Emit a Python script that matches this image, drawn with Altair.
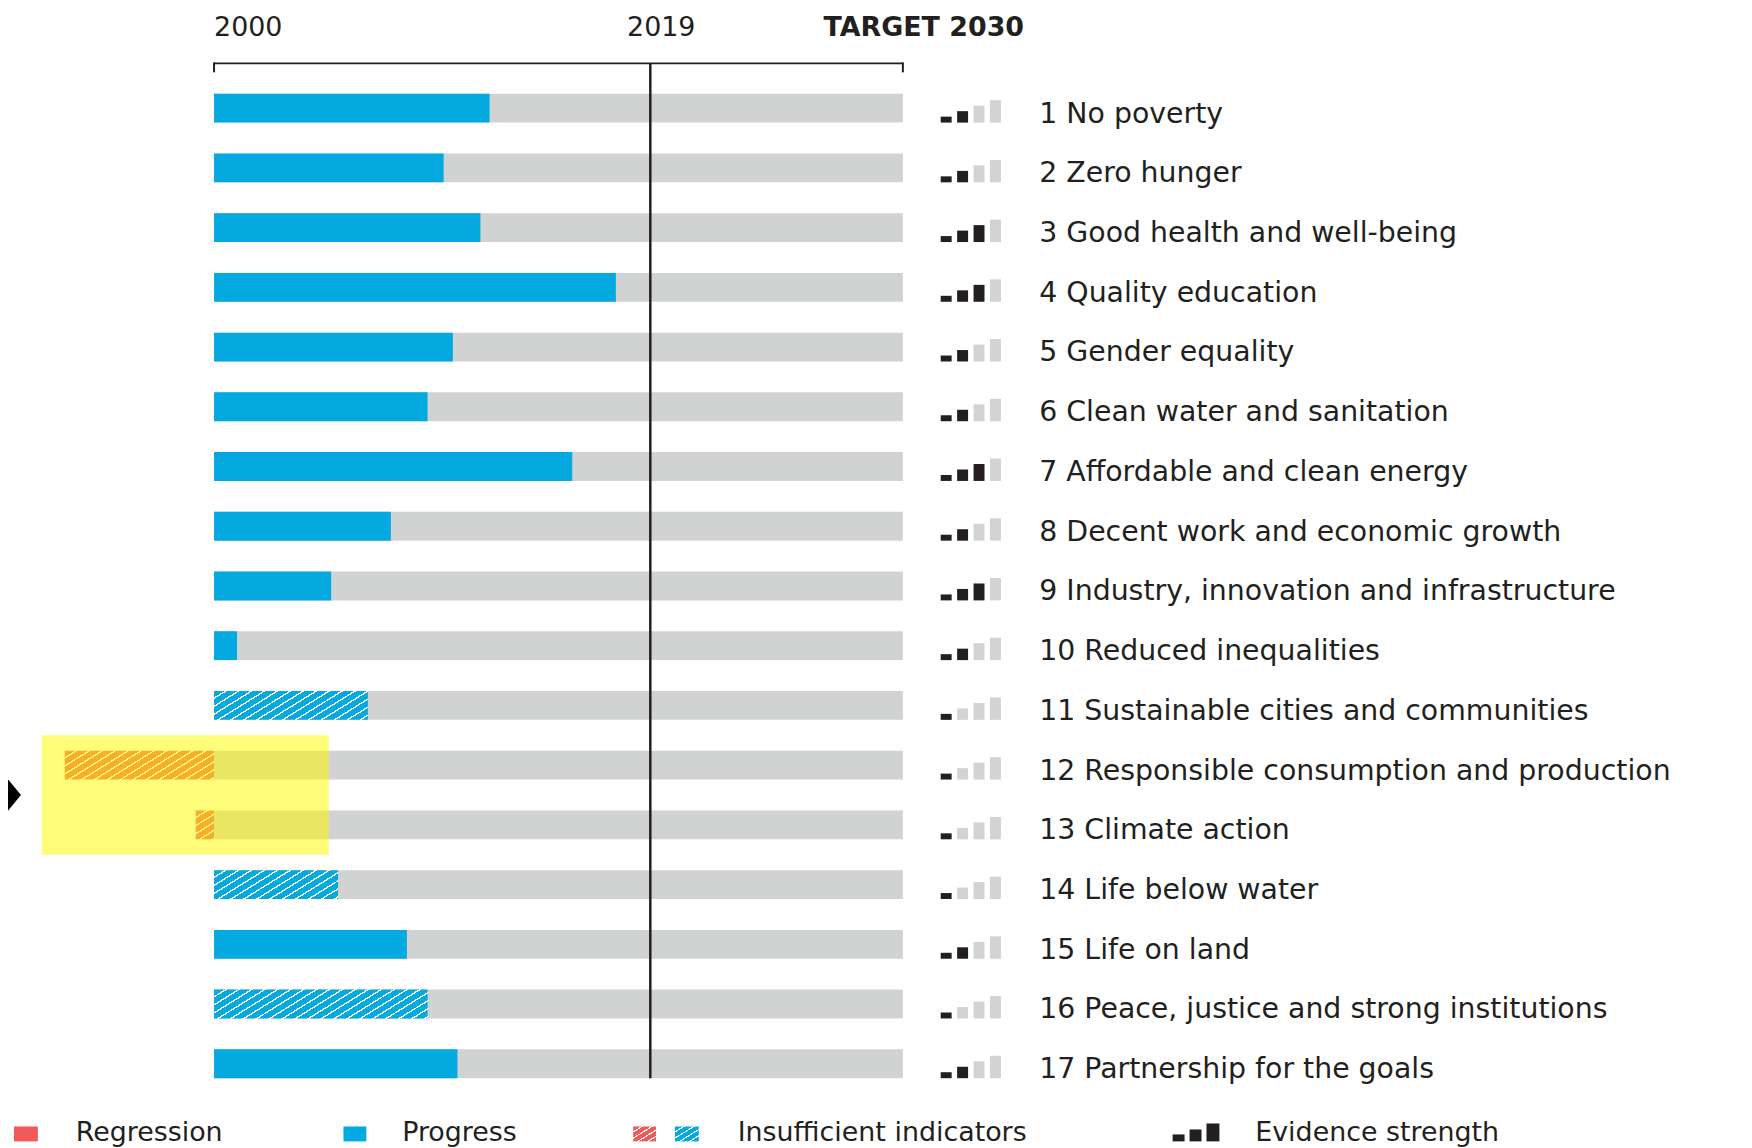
import altair as alt
import pandas as pd
import numpy as np

# ---------------- data ----------------
goals = [
    "1 No poverty",
    "2 Zero hunger",
    "3 Good health and well-being",
    "4 Quality education",
    "5 Gender equality",
    "6 Clean water and sanitation",
    "7 Affordable and clean energy",
    "8 Decent work and economic growth",
    "9 Industry, innovation and infrastructure",
    "10 Reduced inequalities",
    "11 Sustainable cities and communities",
    "12 Responsible consumption and production",
    "13 Climate action",
    "14 Life below water",
    "15 Life on land",
    "16 Peace, justice and strong institutions",
    "17 Partnership for the goals",
]
# progress measured in years since 2000 (negative = regression)
progress = [12.0, 10.0, 11.6, 17.5, 10.4, 9.3, 15.6, 7.7, 5.1, 1.0,
            6.7, -6.5, -0.8, 5.4, 8.4, 9.3, 10.6]
insufficient = [False, False, False, False, False, False, False, False, False, False,
                True, True, True, True, False, True, False]
evidence = [2, 2, 3, 3, 2, 2, 3, 2, 3, 2, 1, 1, 1, 1, 2, 1, 2]
highlighted = ["12 Responsible consumption and production", "13 Climate action"]
header_years = [2000, 2019, 2030]
header_labels = ["2000", "2019", "TARGET 2030"]
status_names = ["Regression", "Progress"]
legend_labels = ["Regression", "Progress", "Insufficient indicators", "Evidence strength"]

# ---------------- style ----------------
RED = "#F15A5A"
BLUE = "#04A9E0"
GREY = "#D1D2D2"
DARK = "#231F20"
LIGHT = "#D1D3D4"
YELLOW = "#FFFA00"
FONT = "DejaVu Sans"

W, H = 1744, 1140
BASE_YEAR = header_years[0]
TARGET = header_years[2] - BASE_YEAR
X0_PX = 207.0
PPY = 692.0 / TARGET
XMIN = -X0_PX / PPY
XMAX = (W - X0_PX) / PPY
BAR_H = 29
HL_SPAN = (-7.5, 5.0)
HDR_Y = 25

XS = alt.Scale(domain=[XMIN, XMAX], nice=False, zero=False)
YS = alt.Scale(domain=goals, range=[68, 1088], paddingInner=0, paddingOuter=0)
Y = alt.Y("goal:N", scale=YS, axis=None, sort=goals)


def hatch(color, w, h, period=13.0, line=2.6, s=0.62):
    F = w + h / s
    A = w / F
    B = (h / s) / F
    n2 = A * A + B * B
    stops = []
    f = 0.0
    while f < F - 1e-6:
        a = f / F
        b = min((f + period - line) / F, 1.0)
        c = min((f + period) / F, 1.0)
        stops += [(a, color), (b, color), (b, "#FFFFFF"), (c, "#FFFFFF")]
        f += period
    return {
        "gradient": "linear",
        "x1": 0, "y1": 0, "x2": A / n2, "y2": B / n2,
        "stops": [{"offset": round(o, 5), "color": col} for o, col in stops],
    }


df = pd.DataFrame({"goal": goals, "value": progress,
                   "insufficient": insufficient, "evidence": evidence})
df["status"] = np.where(df["value"] < 0, status_names[0], status_names[1])
df["start"] = df["value"].clip(upper=0)
df["end"] = df["value"].clip(lower=0)

base = alt.Chart(df)
layers = []

# grey background bars to target
layers.append(
    base.transform_calculate(zero="0", tgt=str(TARGET))
    .mark_bar(height=BAR_H, color=GREY)
    .encode(x=alt.X("zero:Q", scale=XS, axis=None), x2="tgt:Q", y=Y)
)

# solid bars
layers.append(
    base.transform_filter("!datum.insufficient")
    .mark_bar(height=BAR_H)
    .encode(
        x=alt.X("start:Q", scale=XS, axis=None), x2="end:Q", y=Y,
        color=alt.Color("status:N", scale=alt.Scale(domain=status_names, range=[RED, BLUE]), legend=None),
    )
)

# hatched bars (insufficient indicators)
for g, v, ins in zip(goals, progress, insufficient):
    if not ins:
        continue
    col = RED if v < 0 else BLUE
    layers.append(
        base.transform_filter(alt.datum.goal == g)
        .mark_bar(height=BAR_H, fill=hatch(col, abs(v) * PPY, BAR_H), strokeWidth=0)
        .encode(x=alt.X("start:Q", scale=XS, axis=None), x2="end:Q", y=Y)
    )

# 2019 vertical line
yr_df = pd.DataFrame({"year": header_years, "label": header_labels})
layers.append(
    alt.Chart(yr_df).transform_filter(alt.datum.year == header_years[1])
    .transform_calculate(x=f"datum.year - {BASE_YEAR}")
    .mark_rule(color=DARK, strokeWidth=2.5)
    .encode(x=alt.X("x:Q", scale=XS, axis=None), y=alt.value(53), y2=alt.value(1072.5))
)

# bracket
layers.append(
    alt.Chart(yr_df).transform_filter(alt.datum.year == header_years[0])
    .transform_calculate(a="0", b=str(TARGET))
    .mark_rule(color=DARK, strokeWidth=2)
    .encode(x=alt.X("a:Q", scale=XS, axis=None), x2="b:Q", y=alt.value(53))
)
layers.append(
    alt.Chart(yr_df).transform_filter((alt.datum.year == header_years[0]) | (alt.datum.year == header_years[2]))
    .transform_calculate(x=f"datum.year - {BASE_YEAR}")
    .mark_rule(color=DARK, strokeWidth=2)
    .encode(x=alt.X("x:Q", scale=XS, axis=None), y=alt.value(52), y2=alt.value(62))
)

# header labels
hdr = alt.Chart(yr_df).transform_calculate(x=f"datum.year - {BASE_YEAR}")
layers.append(
    hdr.transform_filter(alt.datum.year == header_years[0])
    .mark_text(align="left", baseline="alphabetic", fontSize=27, font=FONT, color=DARK)
    .encode(x=alt.X("x:Q", scale=XS, axis=None), y=alt.value(HDR_Y), text="label:N")
)
layers.append(
    hdr.transform_filter(alt.datum.year == header_years[1])
    .mark_text(align="center", baseline="alphabetic", fontSize=27, font=FONT, color=DARK, dx=11)
    .encode(x=alt.X("x:Q", scale=XS, axis=None), y=alt.value(HDR_Y), text="label:N")
)
layers.append(
    hdr.transform_filter(alt.datum.year == header_years[2])
    .mark_text(align="center", baseline="alphabetic", fontSize=27, font=FONT, fontWeight="bold",
               color=DARK, dx=21)
    .encode(x=alt.X("x:Q", scale=XS, axis=None), y=alt.value(HDR_Y), text="label:N")
)

# evidence strength icons
icon_h = [6, 11.5, 17, 22.5]
icon_x = [937, 953.5, 970, 986.5]
for i, (h, xl) in enumerate(zip(icon_h, icon_x)):
    layers.append(
        base.mark_bar(height=h, yOffset=14.5 - h / 2)
        .encode(
            x=alt.value(xl), x2=alt.value(xl + 11), y=Y,
            color=alt.when(alt.datum.evidence >= i + 1).then(alt.value(DARK)).otherwise(alt.value(LIGHT)),
        )
    )

# goal labels
layers.append(
    base.mark_text(align="left", baseline="alphabetic", dy=14.5, fontSize=28.5, font=FONT, color=DARK)
    .encode(x=alt.value(1036), y=Y, text="goal:N")
)

# highlight box
hl_df = pd.DataFrame({"goal": highlighted})
layers.append(
    alt.Chart(hl_df).transform_calculate(lo=str(HL_SPAN[0]), hi=str(HL_SPAN[1]))
    .mark_rect(color=YELLOW, opacity=0.52)
    .encode(x=alt.X("lo:Q", scale=XS, axis=None), x2="hi:Q", y=Y)
)

# arrow pointing at the highlight
layers.append(
    alt.Chart(hl_df).transform_filter(alt.datum.goal == highlighted[1])
    .mark_point(shape="M-1,-2.2L0.8,0L-1,2.2Z", size=400, filled=True, color="black", opacity=1, strokeWidth=0)
    .encode(x=alt.value(5), y=alt.Y("goal:N", scale=YS, axis=None, bandPosition=0))
)

# ---------------- legend ----------------
one = alt.Chart(pd.DataFrame({"k": [0]}))
LY_TOP, LY_BOT = 1121, 1136


def swatch(x1, x2, fill):
    return one.mark_rect(fill=fill, strokeWidth=0).encode(
        x=alt.value(x1), x2=alt.value(x2), y=alt.value(LY_TOP), y2=alt.value(LY_BOT))


def legtext(x, txt):
    return one.mark_text(align="left", baseline="alphabetic", fontSize=27, font=FONT, color=DARK).encode(
        x=alt.value(x), y=alt.value(LY_BOT), text=alt.value(txt))


layers += [
    swatch(6, 30, RED), legtext(68, legend_labels[0]),
    swatch(337, 360, BLUE), legtext(396, legend_labels[1]),
    swatch(628, 651, hatch(RED, 23, 15, period=10, line=2.2)),
    swatch(670, 694, hatch(BLUE, 24, 15, period=10, line=2.2)),
    legtext(733, legend_labels[2]),
]
for xl, w, h in [(1170, 12, 7), (1187, 12, 12), (1204, 13, 18)]:
    layers.append(one.mark_rect(color=DARK).encode(
        x=alt.value(xl), x2=alt.value(xl + w), y=alt.value(LY_BOT - h), y2=alt.value(LY_BOT)))
layers.append(legtext(1253, legend_labels[3]))

chart = (
    alt.layer(*layers)
    .properties(width=W, height=H, autosize=alt.AutoSizeParams(type="none"), padding=0)
    .configure_view(strokeWidth=0)
)

chart.save("out.html", embed_options={"renderer": "svg", "actions": False})
